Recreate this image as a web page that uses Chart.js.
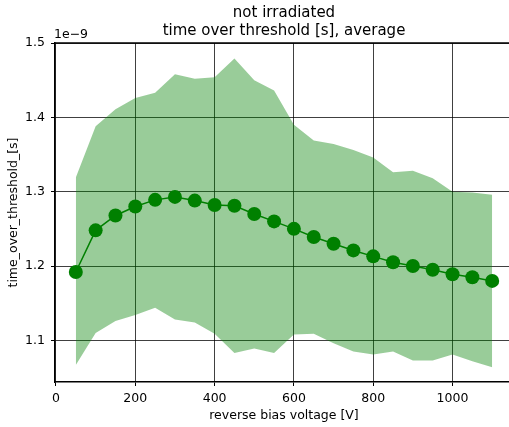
<!DOCTYPE html>
<html>
<head>
<meta charset="utf-8">
<script src="https://cdn.jsdelivr.net/npm/chart.js@4"></script>
<style>
  html, body { margin: 0; padding: 0; background: #fff; }
  #wrap { width: 509px; height: 427px; overflow: hidden; }
</style>
</head>
<body>
<div id="wrap"><canvas id="chart" width="520" height="427"></canvas></div>
<script>
// values in units of 1e-9 s
const voltages = [50, 100, 150, 200, 250, 300, 350, 400, 450, 500, 550, 600,
                  650, 700, 750, 800, 850, 900, 950, 1000, 1050, 1100];
const meanTot = [1.192, 1.248, 1.268, 1.280, 1.289, 1.293, 1.288, 1.282, 1.281, 1.270, 1.260, 1.250,
                 1.239, 1.230, 1.221, 1.213, 1.205, 1.200, 1.195, 1.189, 1.185, 1.180];
const upperTot = [1.319, 1.388, 1.411, 1.426, 1.433, 1.458, 1.452, 1.454, 1.479, 1.450, 1.436, 1.390,
                  1.369, 1.364, 1.356, 1.346, 1.326, 1.328, 1.318, 1.300, 1.299, 1.296];
const lowerTot = [1.067, 1.110, 1.126, 1.134, 1.144, 1.128, 1.124, 1.109, 1.083, 1.089, 1.083, 1.108,
                  1.109, 1.096, 1.085, 1.081, 1.085, 1.073, 1.073, 1.081, 1.072, 1.064];
const xTicks = [0, 200, 400, 600, 800, 1000];
const yTicks = [1.1, 1.2, 1.3, 1.4, 1.5];

const font = 'DejaVu Sans';

function pts(ys) {
    return voltages.map((v, i) => ({ x: v, y: ys[i] }));
}

// title lines, offset text and top spine
const extras = {
    id: 'extras',
    afterDraw(chart) {
        const ctx = chart.ctx;
        const area = chart.chartArea;
        ctx.save();
        ctx.fillStyle = '#000';
        ctx.textAlign = 'center';
        ctx.textBaseline = 'middle';
        ctx.font = '15px "' + font + '"';
        const cx = (area.left + area.right) / 2;
        ctx.fillText('not irradiated', cx, 13);
        ctx.fillText('time over threshold [s], average', cx, 31);
        ctx.textAlign = 'left';
        ctx.font = '12.5px "' + font + '"';
        ctx.fillText('1e\u22129', area.left - 1, 35);
        ctx.strokeStyle = '#000';
        ctx.lineWidth = 1.5;
        ctx.beginPath();
        ctx.moveTo(area.left, area.top);
        ctx.lineTo(area.right, area.top);
        ctx.stroke();
        ctx.restore();
    }
};

new Chart(document.getElementById('chart').getContext('2d'), {
    type: 'line',
    data: {
        datasets: [
            {
                data: pts(meanTot),
                borderColor: '#008000',
                backgroundColor: '#008000',
                borderWidth: 1.5,
                pointRadius: 7,
                pointHoverRadius: 7,
                pointBorderWidth: 0,
                fill: false
            },
            {
                data: pts(upperTot),
                borderWidth: 0,
                pointRadius: 0,
                backgroundColor: 'rgba(0,128,0,0.4)',
                fill: '+1'
            },
            {
                data: pts(lowerTot),
                borderWidth: 0,
                pointRadius: 0,
                fill: false
            }
        ]
    },
    options: {
        responsive: false,
        animation: false,
        devicePixelRatio: 1,
        layout: { padding: { top: 43, right: 0, left: 0, bottom: 0 } },
        plugins: {
            legend: { display: false },
            tooltip: { enabled: false }
        },
        scales: {
            x: {
                type: 'linear',
                min: -2.5,
                max: 1152.5,
                afterBuildTicks: s => { s.ticks = xTicks.map(v => ({ value: v })); },
                afterFit: s => { s.height = 45; s.paddingLeft = 0; s.paddingRight = 0; },
                grid: { color: 'rgba(0,0,0,0.75)', lineWidth: 1, tickColor: '#000', tickLength: 4 },
                border: { color: '#000', width: 1.5 },
                ticks: {
                    color: '#000',
                    font: { family: font, size: 12.5 },
                    padding: 5,
                    maxRotation: 0,
                    callback: v => String(v)
                },
                title: {
                    display: true,
                    text: 'reverse bias voltage [V]',
                    color: '#000',
                    font: { family: font, size: 12.5 },
                    padding: { top: 0, bottom: 4 }
                }
            },
            y: {
                type: 'linear',
                min: 1.044,
                max: 1.5,
                afterBuildTicks: s => { s.ticks = yTicks.map(v => ({ value: v })); },
                afterFit: s => { s.width = 55; },
                grid: { color: 'rgba(0,0,0,0.75)', lineWidth: 1, tickColor: '#000', tickLength: 4 },
                border: { color: '#000', width: 1.5 },
                ticks: {
                    color: '#000',
                    font: { family: font, size: 12.5 },
                    padding: 6,
                    callback: v => v.toFixed(1)
                },
                title: {
                    display: true,
                    text: 'time_over_threshold_[s]',
                    color: '#000',
                    font: { family: font, size: 12.5 },
                    padding: { top: 6, bottom: 0 }
                }
            }
        }
    },
    plugins: [extras]
});
</script>
</body>
</html>
